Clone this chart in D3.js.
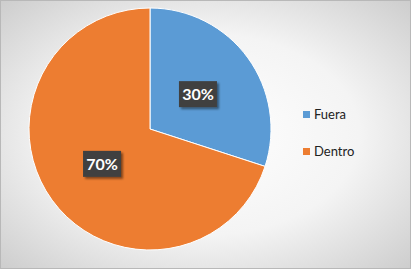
<!DOCTYPE html>
<html>
<head>
<meta charset="utf-8">
<script src="https://cdn.jsdelivr.net/npm/d3@7"></script>
<style>
  body { margin: 0; background: #fff; }
  svg { display: block; font-family: Lato, "Open Sans", sans-serif; }
</style>
</head>
<body>
<svg id="chart" width="411" height="269"></svg>
<script>
var categories = ["Fuera", "Dentro"];
var values = [30, 70];
var labels = ["30%", "70%"];
var colors = ["#5b9bd5", "#ed7d31"];

var svg = d3.select("#chart");
var W = 411, H = 269;

// background radial gradient
var defs = svg.append("defs");
var grad = defs.append("radialGradient").attr("id", "bg")
  .attr("cx", "50%").attr("cy", "50%").attr("r", "75%");
grad.append("stop").attr("offset", "0%").attr("stop-color", "#ffffff");
grad.append("stop").attr("offset", "50%").attr("stop-color", "#f4f4f4");
grad.append("stop").attr("offset", "100%").attr("stop-color", "#c8c8c8");
var shadow = defs.append("filter").attr("id", "sh").attr("x", "-20%").attr("y", "-20%").attr("width", "150%").attr("height", "160%");
shadow.append("feDropShadow").attr("dx", 2).attr("dy", 2).attr("stdDeviation", 1.2)
  .attr("flood-color", "#000").attr("flood-opacity", 0.45);

svg.append("rect").attr("x", 0.5).attr("y", 0.5).attr("width", W - 1).attr("height", H - 1)
  .attr("fill", "url(#bg)").attr("stroke", "#b8b8b8");

var cx = 150, cy = 129, r = 121;
var pie = d3.pie().sort(null).value(function(d) { return d; });
var arcs = pie(values);
var arc = d3.arc().innerRadius(0).outerRadius(r);
var labelArc = d3.arc().innerRadius(r * 0.49).outerRadius(r * 0.49);

var g = svg.append("g").attr("transform", "translate(" + cx + "," + cy + ")");
g.selectAll("path").data(arcs).enter().append("path")
  .attr("d", arc)
  .attr("fill", function(d, i) { return colors[i]; })
  .attr("stroke", "#fff").attr("stroke-width", 1);

var lbl = g.selectAll("g.lbl").data(arcs).enter().append("g").attr("class", "lbl")
  .attr("transform", function(d) { var c = labelArc.centroid(d); return "translate(" + c[0] + "," + c[1] + ")"; });
lbl.append("rect").attr("x", -19).attr("y", -13).attr("width", 38).attr("height", 26)
  .attr("fill", "#404040").attr("filter", "url(#sh)");
lbl.append("text").attr("text-anchor", "middle").attr("dy", "0.36em")
  .attr("fill", "#fff").attr("font-weight", "bold").attr("font-size", 16)
  .text(function(d, i) { return labels[i]; });

var legend = svg.append("g").attr("transform", "translate(303,111)");
var item = legend.selectAll("g").data(categories).enter().append("g")
  .attr("transform", function(d, i) { return "translate(0," + i * 37 + ")"; });
item.append("rect").attr("width", 7).attr("height", 7)
  .attr("fill", function(d, i) { return colors[i]; });
item.append("text").attr("x", 11).attr("y", 8).attr("font-size", 13).attr("fill", "#222")
  .text(function(d) { return d; });
</script>
</body>
</html>
